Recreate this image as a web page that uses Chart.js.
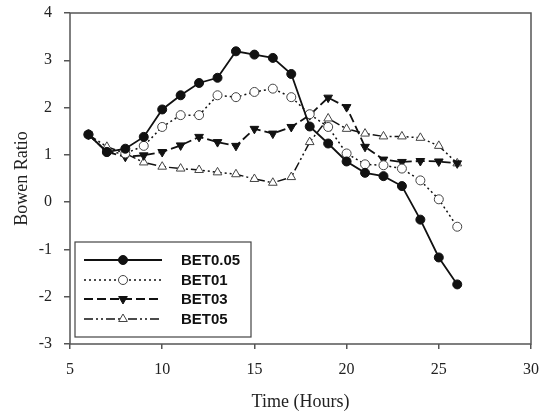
<!DOCTYPE html>
<html>
<head>
<meta charset="utf-8">
<script src="https://cdn.jsdelivr.net/npm/chart.js@4.4.1/dist/chart.umd.min.js"></script>
<style>
  html, body { margin: 0; padding: 0; background: #fff; }
  #wrap { width: 546px; height: 417px; }
</style>
</head>
<body>
<div id="wrap"><canvas id="myChart" width="546" height="417"></canvas></div>
<script>
// hours of the day
let hours = [6, 7, 8, 9, 10, 11, 12, 13, 14, 15, 16, 17, 18, 19, 20, 21, 22, 23, 24, 25, 26];

let bet005 = [1.43, 1.06, 1.13, 1.38, 1.96, 2.26, 2.52, 2.63, 3.19, 3.12, 3.05, 2.71, 1.60, 1.24, 0.86, 0.62, 0.55, 0.34, -0.37, -1.17, -1.74];
let bet01  = [1.43, 1.06, 1.03, 1.19, 1.59, 1.84, 1.84, 2.26, 2.22, 2.33, 2.40, 2.22, 1.86, 1.59, 1.03, 0.80, 0.78, 0.71, 0.46, 0.06, -0.52];
let bet03  = [1.43, 1.06, 0.96, 0.99, 1.06, 1.20, 1.38, 1.27, 1.19, 1.55, 1.45, 1.59, 1.84, 2.21, 2.01, 1.17, 0.90, 0.85, 0.87, 0.86, 0.82];
let bet05  = [1.43, 1.17, 1.03, 0.84, 0.75, 0.71, 0.68, 0.63, 0.59, 0.49, 0.41, 0.53, 1.27, 1.77, 1.55, 1.45, 1.39, 1.39, 1.36, 1.19, 0.82];

let seriesNames = ['BET0.05', 'BET01', 'BET03', 'BET05'];
let xTicks = [5, 10, 15, 20, 25, 30];
let yTicks = [-3, -2, -1, 0, 1, 2, 3, 4];

function pts(vals) {
    return hours.map(function(h, i) { return {x: h, y: vals[i]}; });
}

let ink = '#111';

let datasets = [
    {label: seriesNames[0], data: pts(bet005), borderColor: ink, borderWidth: 1.8,
     pointStyle: 'circle', pointRadius: 4.5, pointBackgroundColor: ink, pointBorderColor: ink, pointBorderWidth: 1},
    {label: seriesNames[1], data: pts(bet01), borderColor: ink, borderWidth: 1.5, borderDash: [2, 3],
     pointStyle: 'circle', pointRadius: 4.5, pointBackgroundColor: '#fff', pointBorderColor: '#444', pointBorderWidth: 1},
    {label: seriesNames[2], data: pts(bet03), borderColor: ink, borderWidth: 1.8, borderDash: [9, 4],
     pointStyle: 'triangle', pointRotation: 180, pointRadius: 5, pointBackgroundColor: ink, pointBorderColor: ink, pointBorderWidth: 1},
    {label: seriesNames[3], data: pts(bet05), borderColor: ink, borderWidth: 1.5, borderDash: [9, 3, 2, 3, 2, 3],
     pointStyle: 'triangle', pointRadius: 5, pointBackgroundColor: '#fff', pointBorderColor: '#444', pointBorderWidth: 1}
];
datasets.forEach(function(d) { d.fill = false; d.tension = 0; d.pointHoverRadius = d.pointRadius; });

// frame around the plot
let frame = {
    id: 'frame',
    afterDatasetsDraw: function(chart) {
        let a = chart.chartArea, c = chart.ctx;
        c.save();
        c.strokeStyle = '#555';
        c.lineWidth = 1.5;
        c.strokeRect(a.left, a.top, a.right - a.left, a.bottom - a.top);
        c.restore();
    }
};

// legend box inside the plot, lower left
let boxLegend = {
    id: 'boxLegend',
    afterDraw: function(chart) {
        let c = chart.ctx;
        let bx = 75, by = 242, bw = 176, bh = 95;
        c.save();
        c.fillStyle = '#fff';
        c.fillRect(bx, by, bw, bh);
        c.strokeStyle = '#444';
        c.lineWidth = 1.2;
        c.strokeRect(bx, by, bw, bh);
        let rows = [260, 280, 299, 319];
        chart.data.datasets.forEach(function(d, i) {
            let y = rows[i];
            c.strokeStyle = d.borderColor;
            c.lineWidth = d.borderWidth;
            c.setLineDash(d.borderDash || []);
            c.beginPath();
            c.moveTo(84, y);
            c.lineTo(162, y);
            c.stroke();
            c.setLineDash([]);
            c.fillStyle = d.pointBackgroundColor;
            c.strokeStyle = d.pointBorderColor;
            c.lineWidth = d.pointBorderWidth;
            Chart.helpers.drawPoint(c, {pointStyle: d.pointStyle, rotation: d.pointRotation || 0,
                radius: d.pointRadius, borderWidth: d.pointBorderWidth}, 123, y);
            c.fillStyle = '#111';
            c.font = 'bold 15px "Liberation Sans", Arial, sans-serif';
            c.textBaseline = 'middle';
            c.fillText(d.label, 181, y + 1);
        });
        c.restore();
    }
};

let serif = '"Liberation Serif", "Times New Roman", serif';

let myChart = new Chart(document.getElementById('myChart').getContext('2d'), {
    type: 'line',
    data: {datasets: datasets},
    plugins: [frame, boxLegend],
    options: {
        responsive: false,
        animation: false,
        layout: {padding: {top: 13, right: 15, left: 0, bottom: 0}},
        plugins: {legend: {display: false}, tooltip: {enabled: false}},
        scales: {
            x: {
                type: 'linear', min: 5, max: 30,
                afterBuildTicks: function(s) { s.ticks = xTicks.map(function(v) { return {value: v}; }); },
                afterFit: function(s) { s.height = 73; s.paddingLeft = 0; s.paddingRight = 0; },
                grid: {display: true, drawOnChartArea: false, drawTicks: true, tickLength: 5, color: '#555', lineWidth: 1.5},
                border: {display: false},
                ticks: {color: '#222', font: {family: serif, size: 16}, padding: 11, maxRotation: 0},
                title: {display: true, text: 'Time (Hours)', color: '#222', font: {family: serif, size: 18}, padding: {top: 4, bottom: 4}}
            },
            y: {
                type: 'linear', min: -3, max: 4,
                afterBuildTicks: function(s) { s.ticks = yTicks.map(function(v) { return {value: v}; }); },
                afterFit: function(s) { s.width = 70; s.paddingTop = 0; s.paddingBottom = 0; },
                grid: {display: true, drawOnChartArea: false, drawTicks: true, tickLength: 6, color: '#555', lineWidth: 1.5},
                border: {display: false},
                ticks: {color: '#222', font: {family: serif, size: 16}, padding: 12},
                title: {display: true, text: 'Bowen Ratio', color: '#222', font: {family: serif, size: 18}, padding: {top: 11, bottom: 4}}
            }
        }
    }
});
</script>
</body>
</html>
